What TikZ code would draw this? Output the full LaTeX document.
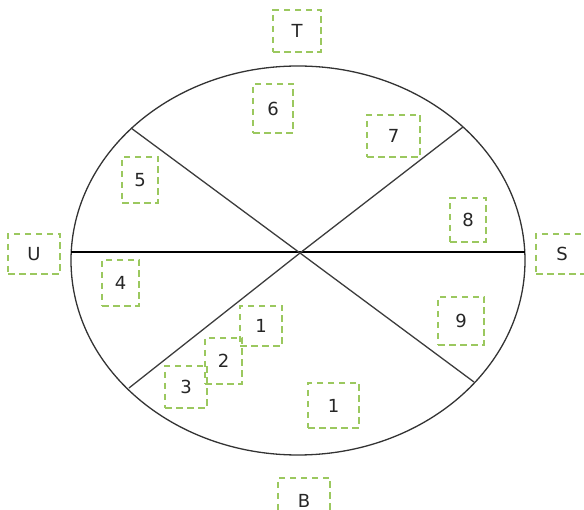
\documentclass[tikz,border=0pt]{standalone}
\usepackage{fontspec}
\setmainfont{DejaVu Sans}
\definecolor{boxgreen}{RGB}{155,200,95}
\definecolor{linegray}{RGB}{60,60,60}
\tikzset{
  lbl/.style={draw=boxgreen, line width=1.6pt, dash pattern=on 6.5pt off 4.5pt,
    rectangle, inner sep=0pt, font=\fontsize{18}{18}\selectfont, text=black!85},
  rim/.style={draw=black!80, line width=1.3pt},
  spoke/.style={draw=linegray, line width=1.3pt},
  axis/.style={draw=black, line width=1.5pt}
}
\newcommand{\lbox}[6]{%
  \node[lbl, minimum width={#4pt-#2pt}, minimum height={#5pt-#3pt}]
    (#1) at ({(#2+#4)/2},{(#3+#5)/2}) {#6};}
\begin{document}
\begin{tikzpicture}[x=1pt,y=-1pt]
\useasboundingbox (0,0) rectangle (584,510);
\clip (0,0) rectangle (584,510);
% ellipse
\draw[rim] (298,260.5) ellipse [x radius=227, y radius=194.5];
% spoke end points
\coordinate (c) at (300,253);
\coordinate (ul) at (131,128);
\coordinate (ur) at (463,127);
\coordinate (ll) at (129,388);
\coordinate (lr) at (474,382);
\coordinate (hl) at (71,252);
\coordinate (hr) at (525,252);
\draw[axis] (hl) -- (hr);
\draw[spoke] (ul) -- (c) -- (lr);
\draw[spoke] (ll) -- (c) -- (ur);
% boxes
\lbox{t}{273}{10}{321}{52}{T}
\lbox{b6}{253}{84}{293}{133}{6}
\lbox{b7}{367}{115}{420}{157}{7}
\lbox{b5}{122}{157}{158}{203}{5}
\lbox{b8}{450}{198}{486}{242}{8}
\lbox{u}{8}{234}{60}{274}{U}
\lbox{s}{536}{234}{588}{274}{S}
\lbox{b4}{102}{260}{139}{306}{4}
\lbox{b1a}{240}{306}{282}{346}{1}
\lbox{b9}{438}{297}{484}{345}{9}
\lbox{b2}{205}{338}{242}{384}{2}
\lbox{b3}{165}{366}{207}{408}{3}
\lbox{b1b}{308}{383}{359}{428}{1}
\lbox{bb}{278}{478}{330}{524}{B}
\end{tikzpicture}
\end{document}
